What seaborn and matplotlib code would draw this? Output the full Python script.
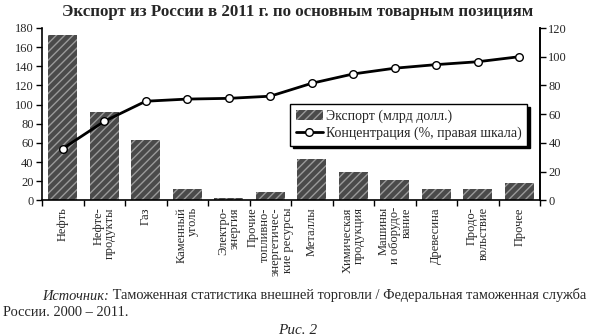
import matplotlib
matplotlib.use("Agg")
import matplotlib.pyplot as plt
import seaborn as sns
import numpy as np
import pandas as pd
from matplotlib.lines import Line2D
from matplotlib.patches import Patch
from matplotlib.ticker import FixedLocator

categories = [
    "Нефть", "Нефте-\nпродукты", "Газ", "Каменный\nуголь", "Электро-\nэнергия",
    "Прочие\nтопливно-\nэнергетичес-\nкие ресурсы", "Металлы",
    "Химическая\nпродукция", "Машины\nи оборудо-\nвание", "Древесина",
    "Продо-\nвольствие", "Прочее",
]
export_bln = [173, 92, 63, 12, 2, 9, 43.5, 30, 21, 11.5, 12, 18]
concentration = [36, 55, 69, 70.5, 71, 72.5, 81.5, 88, 92, 94.5, 96.5, 100]
left_ticks = [0, 20, 40, 60, 80, 100, 120, 140, 160, 180]
right_ticks = [0, 20, 40, 60, 80, 100, 120]

sns.set_theme(style="white")
plt.rcParams["font.family"] = ["Liberation Serif", "DejaVu Serif"]
plt.rcParams["hatch.linewidth"] = 1.0

df = pd.DataFrame({"cat": categories, "export": export_bln, "conc": concentration})

fig = plt.figure(figsize=(5.95, 3.36), dpi=100)
ax = fig.add_axes([42 / 595, 1 - 200.3 / 336, (540 - 42) / 595, (200.3 - 28) / 336])

sns.barplot(data=df, x="cat", y="export", ax=ax, color="#4d4d4d", width=0.7,
            saturation=1, edgecolor="#9a9a9a", linewidth=0.0)
for p in ax.patches:
    p.set_hatch("////")
    p.set_facecolor("#4a4a4a")

ax.set_xlim(-0.5, len(categories) - 0.5)
ax.set_ylim(0, 180)
ax.set_yticks(left_ticks)
ax.set_xlabel("")
ax.set_ylabel("")
ax.set_xticks(range(len(categories)))
ax.set_xticklabels(categories, rotation=90, fontsize=9, va="top", ha="center",
                   multialignment="right", linespacing=0.95)
ax.xaxis.set_minor_locator(FixedLocator(np.arange(-0.5, len(categories), 1.0)))
ax.tick_params(axis="x", which="major", length=0, pad=5)
ax.tick_params(axis="x", which="minor", length=4, width=1, color="black", direction="out", bottom=True)
ax.tick_params(axis="y", length=4, width=1, color="black", direction="out", left=True, labelsize=9, pad=2)
for s in ("left", "bottom", "right"):
    ax.spines[s].set_color("black")
    ax.spines[s].set_linewidth(1.2)
ax.spines["top"].set_visible(False)

ax2 = ax.twinx()
sns.lineplot(x=np.arange(len(categories)), y=df["conc"], ax=ax2, color="black",
             linewidth=2, marker="o")
for ln in ax2.lines:
    ln.set_markersize(5.5)
    ln.set_markerfacecolor("white")
    ln.set_markeredgecolor("black")
    ln.set_markeredgewidth(1.0)
ax2.set_ylim(0, 120)
ax2.set_yticks(right_ticks)
ax2.set_ylabel("")
ax2.tick_params(axis="y", length=4, width=1, color="black", direction="out", right=True, labelsize=9, pad=2)
ax2.spines["top"].set_visible(False)
ax2.spines["right"].set_linewidth(1.2)
ax2.spines["right"].set_color("black")
ax2.spines["left"].set_visible(False)
ax2.spines["bottom"].set_visible(False)

handles = [
    Patch(facecolor="#4a4a4a", edgecolor="#9a9a9a", hatch="////", linewidth=0),
    Line2D([0], [0], color="black", linewidth=2, marker="o", markersize=5.5,
           markerfacecolor="white", markeredgecolor="black", markeredgewidth=1.0),
]
leg = ax2.legend(handles, ["Экспорт (млрд долл.)", "Концентрация (%, правая шкала)"],
                 loc="upper left", bbox_to_anchor=(290 / 595, 1 - 104 / 336),
                 bbox_transform=fig.transFigure, frameon=True, fancybox=False,
                 shadow={"color": "black", "alpha": 1.0}, fontsize=10,
                 handlelength=2.0, handletextpad=0.2, labelspacing=0.25,
                 borderpad=0.4, borderaxespad=0)
leg.get_frame().set_edgecolor("black")
leg.get_frame().set_linewidth(1.0)

fig.text(0.5, 1 - 12 / 336, "Экспорт из России в 2011 г. по основным товарным позициям",
         ha="center", va="center", fontsize=12.2, fontweight="bold")

t1 = fig.text(42 / 595, 1 - 296 / 336, "Источник:", ha="left", va="center",
              fontsize=10.4, style="italic")
ax.annotate(" Таможенная статистика внешней торговли / Федеральная таможенная служба",
            xy=(1, 0), xycoords=t1, ha="left", va="bottom", fontsize=10.4,
            annotation_clip=False)
fig.text(3 / 595, 1 - 313 / 336, "России. 2000 – 2011.", ha="left", va="center", fontsize=10.4)
fig.text(298 / 595, 1 - 330 / 336, "Рис. 2", ha="center", va="center", fontsize=11, style="italic")

fig.savefig("out.png", dpi=100)
